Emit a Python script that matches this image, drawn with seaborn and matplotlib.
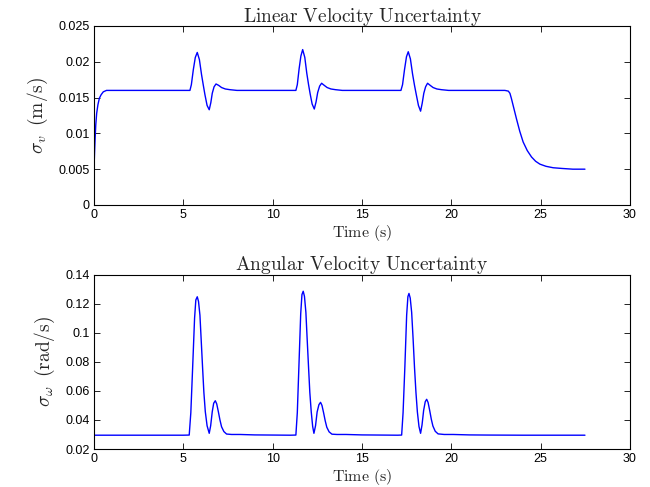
import matplotlib
matplotlib.use("Agg")
import matplotlib.pyplot as plt
import seaborn as sns
import pandas as pd

# ---------------- data ----------------
t_lin = [0.0, 0.03, 0.06, 0.10, 0.15, 0.22, 0.30, 0.40, 0.52, 0.70, 1.0, 2.0, 3.0, 4.0, 5.0,
         5.37, 5.45, 5.56, 5.67, 5.78, 5.90, 6.02, 6.12, 6.21, 6.33, 6.45, 6.54, 6.62, 6.72,
         6.83, 6.98, 7.14, 7.35, 7.61, 8.0, 9.0, 10.0, 11.0,
         11.30, 11.38, 11.48, 11.58, 11.68, 11.80, 11.91, 12.01, 12.10, 12.21, 12.33, 12.43,
         12.52, 12.63, 12.74, 12.89, 13.05, 13.26, 13.52, 13.9, 15.0, 16.0, 17.0,
         17.18, 17.27, 17.38, 17.49, 17.59, 17.71, 17.83, 17.94, 18.04, 18.16, 18.28, 18.37,
         18.46, 18.56, 18.67, 18.82, 18.98, 19.19, 19.45, 19.85, 20.5, 21.5, 22.5, 23.0,
         23.19, 23.28, 23.36, 23.50, 23.65, 23.83, 24.02, 24.25, 24.49, 24.72, 24.96, 25.30,
         25.70, 26.2, 26.8, 27.48]
v_lin = [0.0050, 0.0072, 0.0091, 0.0112, 0.0128, 0.0140, 0.0149, 0.0154, 0.0158, 0.0160, 0.0160,
         0.0160, 0.0160, 0.0160, 0.0160,
         0.0160, 0.0168, 0.0189, 0.0206, 0.0213, 0.0203, 0.0182, 0.0167, 0.0154, 0.0139, 0.0133,
         0.0143, 0.0156, 0.0165, 0.0169, 0.0167, 0.0164, 0.0162, 0.0161, 0.0160, 0.0160, 0.0160,
         0.0160,
         0.0160, 0.0168, 0.0190, 0.0208, 0.0217, 0.0206, 0.0184, 0.0168, 0.0155, 0.0141, 0.0134,
         0.0144, 0.0157, 0.0166, 0.0170, 0.0167, 0.0164, 0.0162, 0.0161, 0.0160, 0.0160, 0.0160,
         0.0160,
         0.0160, 0.0168, 0.0189, 0.0207, 0.0214, 0.0204, 0.0183, 0.0167, 0.0154, 0.0139, 0.0131,
         0.0142, 0.0156, 0.0165, 0.0170, 0.0167, 0.0164, 0.0162, 0.0161, 0.0160, 0.0160, 0.0160,
         0.0160, 0.0160,
         0.0159, 0.0156, 0.0149, 0.0135, 0.0120, 0.0103, 0.0088, 0.0076, 0.0067, 0.0061, 0.0057,
         0.0054, 0.0052, 0.0051, 0.0050, 0.0050]

t_ang = [0.0, 5.0, 5.33, 5.42, 5.52, 5.63, 5.70, 5.78, 5.85, 5.93, 6.00, 6.08, 6.15, 6.23, 6.33,
         6.45, 6.53, 6.62, 6.70, 6.79, 6.87, 6.96, 7.05, 7.14, 7.27, 7.42, 7.7, 8.17, 9.0, 10.0,
         11.0,
         11.30, 11.38, 11.47, 11.57, 11.64, 11.71, 11.78, 11.86, 11.93, 12.01, 12.08, 12.16,
         12.24, 12.31, 12.40, 12.49, 12.59, 12.68, 12.76, 12.85, 12.94, 13.03, 13.16, 13.32,
         13.6, 14.1, 15.0, 16.0, 17.0,
         17.22, 17.30, 17.40, 17.50, 17.57, 17.63, 17.70, 17.78, 17.86, 17.94, 18.02, 18.10,
         18.19, 18.28, 18.36, 18.45, 18.54, 18.62, 18.70, 18.79, 18.88, 18.97, 19.10, 19.26,
         19.6, 20.1, 21.0, 22.0, 24.0, 27.48]
w_ang = [0.0295, 0.0295, 0.0296, 0.0450, 0.0755, 0.1100, 0.1225, 0.1247, 0.1215, 0.1120, 0.0950,
         0.0755, 0.0590, 0.0457, 0.0360, 0.0308, 0.0360, 0.0457, 0.0515, 0.0532, 0.0510, 0.0457,
         0.0400, 0.0353, 0.0320, 0.0303, 0.0300, 0.0300, 0.0297, 0.0296, 0.0295,
         0.0296, 0.0450, 0.0770, 0.1130, 0.1262, 0.1285, 0.1250, 0.1140, 0.0960, 0.0760, 0.0590,
         0.0455, 0.0355, 0.0308, 0.0360, 0.0455, 0.0505, 0.0521, 0.0500, 0.0450, 0.0395, 0.0350,
         0.0318, 0.0302, 0.0300, 0.0300, 0.0297, 0.0296, 0.0295,
         0.0296, 0.0450, 0.0765, 0.1120, 0.1248, 0.1270, 0.1238, 0.1140, 0.0960, 0.0760, 0.0590,
         0.0455, 0.0355, 0.0308, 0.0365, 0.0465, 0.0525, 0.0542, 0.0520, 0.0465, 0.0405, 0.0358,
         0.0322, 0.0304, 0.0300, 0.0300, 0.0297, 0.0296, 0.0295, 0.0295]

x_ticks = [0, 5, 10, 15, 20, 25, 30]
x_tick_labels = ["0", "5", "10", "15", "20", "25", "30"]
y_ticks_lin = [0, 0.005, 0.01, 0.015, 0.02, 0.025]
y_tick_labels_lin = ["0", "0.005", "0.01", "0.015", "0.02", "0.025"]
y_ticks_ang = [0.02, 0.04, 0.06, 0.08, 0.10, 0.12, 0.14]
y_tick_labels_ang = ["0.02", "0.04", "0.06", "0.08", "0.1", "0.12", "0.14"]

title_lin = r"$\mathrm{Linear\ Velocity\ Uncertainty}$"
title_ang = r"$\mathrm{Angular\ Velocity\ Uncertainty}$"
ylabel_lin = r"$\sigma_v\;\;\mathrm{(m/s)}$"
ylabel_ang = r"$\sigma_\omega\;\;\mathrm{(rad/s)}$"
xlabel = r"$\mathrm{Time\ (s)}$"

# ---------------- style ----------------
sns.set_style("ticks")
plt.rcParams["font.family"] = ["Liberation Sans", "DejaVu Sans"]
plt.rcParams["mathtext.fontset"] = "cm"

df_lin = pd.DataFrame({"t": t_lin, "v": v_lin})
df_ang = pd.DataFrame({"t": t_ang, "w": w_ang})

fig = plt.figure(figsize=(6.5, 4.87), dpi=100)
ax1 = fig.add_axes([0.1446, 0.5791, 0.8246, 0.3676])
ax2 = fig.add_axes([0.1446, 0.0780, 0.8246, 0.3583])

sns.lineplot(data=df_lin, x="t", y="v", ax=ax1, color=(0, 0, 1), lw=1.0, estimator=None, sort=False)
sns.lineplot(data=df_ang, x="t", y="w", ax=ax2, color=(0, 0, 1), lw=1.0, estimator=None, sort=False)

for ax, yt, ytl, ylim, ttl, yl in [
    (ax1, y_ticks_lin, y_tick_labels_lin, (0, 0.025), title_lin, ylabel_lin),
    (ax2, y_ticks_ang, y_tick_labels_ang, (0.02, 0.14), title_ang, ylabel_ang),
]:
    ax.set_xlim(0, 30)
    ax.set_ylim(*ylim)
    ax.set_xticks(x_ticks)
    ax.set_xticklabels(x_tick_labels)
    ax.set_yticks(yt)
    ax.set_yticklabels(ytl)
    ax.tick_params(direction="in", top=True, right=True, length=4, width=0.6,
                   labelsize=9, pad=3, colors="black")
    for s in ax.spines.values():
        s.set_visible(True)
        s.set_linewidth(0.8)
        s.set_color("black")
    ax.set_title(ttl, fontsize=14, pad=3)
    ax.set_ylabel(yl, fontsize=14, labelpad=6)
    ax.set_xlabel(xlabel, fontsize=11.5, labelpad=1)

fig.savefig("out.png", dpi=100)
